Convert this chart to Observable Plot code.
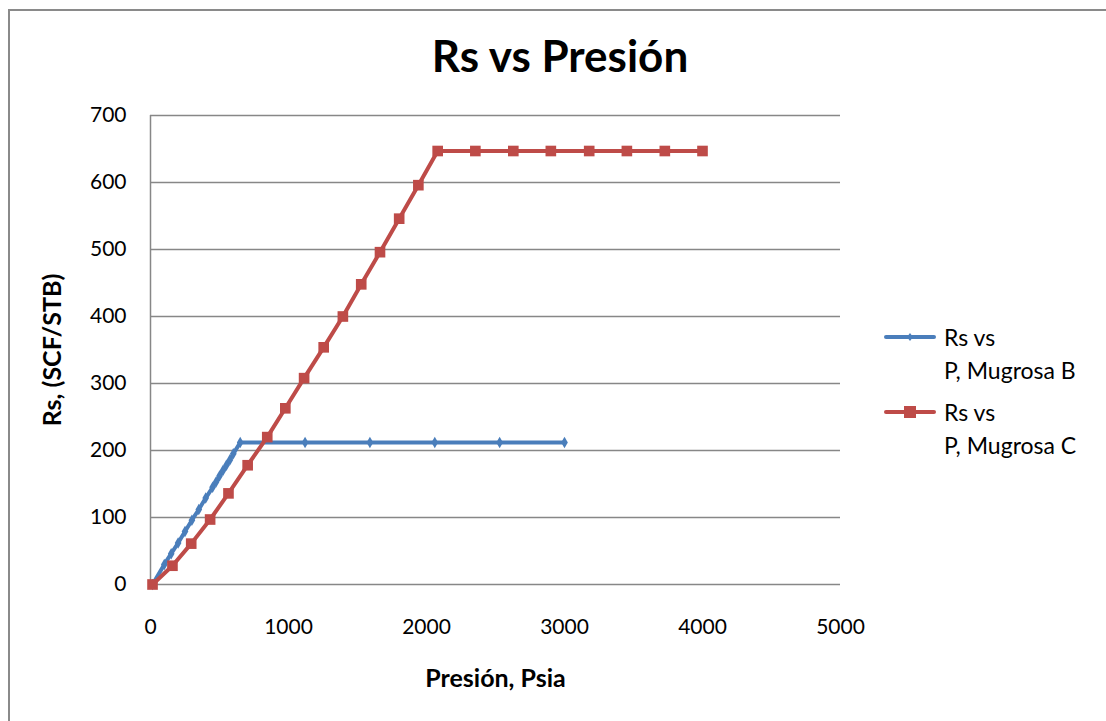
<!DOCTYPE html>
<html>
<head>
<meta charset="utf-8">
<script src="https://cdn.jsdelivr.net/npm/d3@7"></script>
<script src="https://cdn.jsdelivr.net/npm/@observablehq/plot@0.6"></script>
<style>
  html, body { margin: 0; padding: 0; background: #fff; overflow: hidden; }
  body { width: 1106px; height: 721px; position: relative; font-family: Lato, "Open Sans", sans-serif; }
  #frame { position: absolute; left: 8px; top: 9px; width: 1200px; height: 800px; border: 2px solid #8a8a8a; box-sizing: border-box; }
  #title { position: absolute; left: 0; top: 33px; width: 1120px; text-align: center; font-size: 44px; line-height: 44px; font-weight: 700; color: #000; }
  #chart { position: absolute; left: 0; top: 90px; }
  #legend { position: absolute; left: 884px; top: 321px; font-size: 23px; color: #000; line-height: 33px; }
  .item { display: flex; align-items: flex-start; margin-bottom: 9px; }
  .item svg { margin-top: 0px; margin-right: 8px; flex: none; }
</style>
</head>
<body>
<div id="frame"></div>
<div id="title">Rs vs Presión</div>
<div id="chart"></div>
<div id="legend"></div>
<script>
// Solution gas-oil ratio (Rs) against pressure for two sands.
const pressureB = [14.7, 100, 150, 200, 250, 300, 350, 400, 450, 475, 500, 525, 550, 575, 600, 650, 1120, 1590, 2060, 2530, 3000];
const rsB       = [0, 30, 46, 62, 79, 96, 112, 129, 145, 153, 162, 170, 178, 186, 195, 212, 212, 212, 212, 212, 212];

const pressureC = [14.7, 159, 295, 432, 565, 704, 846, 977, 1113, 1255, 1394, 1527, 1663, 1802, 1941, 2081, 2354, 2629, 2901, 3179, 3452, 3727, 4000];
const rsC       = [0, 28, 61, 97, 136, 178, 220, 263, 308, 354, 400, 448, 496, 546, 596, 647, 647, 647, 647, 647, 647, 647, 647];

const seriesNames = ["Rs vs P, Mugrosa B", "Rs vs P, Mugrosa C"];
const seriesLegend = [["Rs vs", "P, Mugrosa B"], ["Rs vs", "P, Mugrosa C"]];
const xTicks = [0, 1000, 2000, 3000, 4000, 5000];
const yTicks = [0, 100, 200, 300, 400, 500, 600, 700];
const xTitle = "Presión, Psia";
const yTitle = "Rs, (SCF/STB)";

const BLUE = "#4a7ebb";
const RED = "#be4b48";
const GRID = "#878787";

const dataB = pressureB.map((p, i) => ({p, rs: rsB[i], s: seriesNames[0]}));
const dataC = pressureC.map((p, i) => ({p, rs: rsC[i], s: seriesNames[1]}));

const chart = Plot.plot({
  width: 1106,
  height: 631,
  marginLeft: 150,
  marginRight: 266,
  marginTop: 25,
  marginBottom: 137,
  style: {fontFamily: "Lato, 'Open Sans', sans-serif", fontSize: "21px", color: "#000", background: "transparent"},
  x: {domain: [0, 5000]},
  y: {domain: [0, 700]},
  marks: [
    Plot.ruleY(yTicks, {stroke: GRID, strokeWidth: 1.5}),
    Plot.ruleX([0], {stroke: GRID, strokeWidth: 1.5}),
    Plot.axisX(xTicks, {tickSize: 0, tickPadding: 35, fontSize: 21, label: null, tickFormat: d => String(d)}),
    Plot.axisY(yTicks, {tickSize: 0, tickPadding: 24, fontSize: 21, label: null, tickFormat: d => String(d)}),
    Plot.text([xTitle], {frameAnchor: "bottom", dy: 94, lineAnchor: "middle", textAnchor: "middle", fontWeight: "bold", fontSize: 25}),
    Plot.text([yTitle], {frameAnchor: "left", dx: -98, rotate: -90, lineAnchor: "middle", textAnchor: "middle", fontWeight: "bold", fontSize: 25}),
    Plot.line(dataB, {x: "p", y: "rs", stroke: BLUE, strokeWidth: 4, strokeLinejoin: "round", strokeLinecap: "round"}),
    Plot.dot(dataB, {x: "p", y: "rs", symbol: "diamond", r: 3.5, fill: BLUE}),
    Plot.line(dataC, {x: "p", y: "rs", stroke: RED, strokeWidth: 4, strokeLinejoin: "round", strokeLinecap: "round"}),
    Plot.dot(dataC, {x: "p", y: "rs", symbol: "square", r: 6, fill: RED})
  ]
});
document.getElementById("chart").append(chart);

// Legend: line swatch with its marker, followed by the two-line series name
const legend = document.getElementById("legend");
seriesLegend.forEach((lines, i) => {
  const color = i === 0 ? BLUE : RED;
  const marker = i === 0
    ? `<path d="M26,12 L29,16 L26,20 L23,16 Z" fill="${color}"/>`
    : `<rect x="20" y="10" width="12" height="12" fill="${color}"/>`;
  const item = document.createElement("div");
  item.className = "item";
  item.innerHTML = `<svg width="52" height="32"><line x1="2" y1="16" x2="50" y2="16" stroke="${color}" stroke-width="4" stroke-linecap="round"/>${marker}</svg><div>${lines.join("<br>")}</div>`;
  legend.append(item);
});
</script>
</body>
</html>
